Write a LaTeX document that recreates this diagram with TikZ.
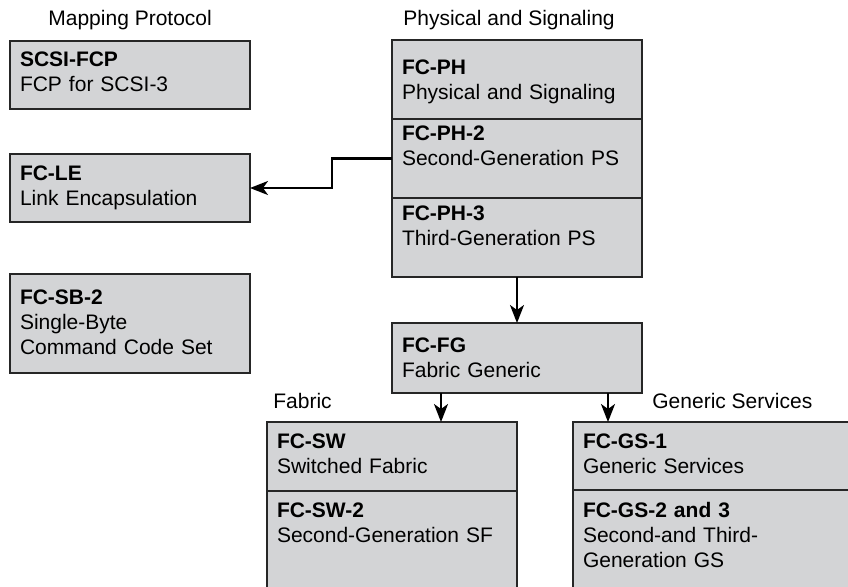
\documentclass[tikz,border=0pt]{standalone}
\usepackage{fontspec}
\setmainfont{Liberation Sans}
\usetikzlibrary{arrows.meta,positioning}
\definecolor{boxgray}{HTML}{D3D4D6}
\tikzset{sect/.style={draw=black!85,line width=0.6pt,fill=boxgray,anchor=north west,outer sep=0pt,inner xsep=5pt,inner ysep=0pt,align=left,text width=115pt,font=\fontsize{10.5}{12.5}\selectfont},lsect/.style={sect,text width=110pt},wsect/.style={sect,text width=140pt},head/.style={inner sep=0pt,anchor=base west,font=\fontsize{10.5}{12.5}\selectfont},edge/.style={-{Stealth[length=9pt,width=7pt,inset=2.5pt]},line width=1.1pt}}

\begin{document}
\begin{tikzpicture}[x=0.5pt,y=-0.5pt]
\useasboundingbox (0,0) rectangle (848,586);
\clip (0,0) rectangle (848,586);
% column headings
\node[head] (maphead) at (48,25) {Mapping Protocol};
\node[head] (phyhead) at (403,25) {Physical and Signaling};
\node[head] (fabhead) at (273,408) {Fabric};
\node[head] (gshead) at (652,408) {Generic Services};
% mapping protocols
\node[lsect,text height=12.5pt,text depth=21.5pt] (fcp) at (10,41) {\textbf{SCSI-FCP}\\FCP for SCSI-3};
\node[lsect,text height=13pt,text depth=21pt] (le) at (10,154) {\textbf{FC-LE}\\Link Encapsulation};
\node[lsect,text height=15pt,text depth=34.5pt] (sb) at (10,274) {\textbf{FC-SB-2}\\Single-Byte\\Command Code Set};
% physical and signaling stack
\node[sect,text height=17pt,text depth=22.5pt] (ph) at (392,40) {\textbf{FC-PH}\\Physical and Signaling};
\node[sect,text height=10.5pt,text depth=29pt,below=0pt of ph] (ph2) {\textbf{FC-PH-2}\\Second-Generation PS};
\node[sect,text height=11pt,text depth=28.5pt,below=0pt of ph2] (ph3) {\textbf{FC-PH-3}\\Third-Generation PS};
\node[sect,text height=14.5pt,text depth=20.5pt] (fg) at (392,323) {\textbf{FC-FG}\\Fabric Generic};
% fabric and generic services
\node[sect,text height=13pt,text depth=21.5pt] (sw) at (267,422) {\textbf{FC-SW}\\Switched Fabric};
\node[sect,text height=13pt,text depth=50pt,below=0pt of sw] (sw2) {\textbf{FC-SW-2}\\Second-Generation SF};
\node[wsect,text height=13pt,text depth=21pt] (gs) at (573,422) {\textbf{FC-GS-1}\\Generic Services};
\node[wsect,text height=13.5pt,text depth=50pt,below=0pt of gs] (gs2) {\textbf{FC-GS-2 and 3}\\Second-and Third-\\Generation GS};
% connectors
\coordinate (fgl) at ([xshift=-38pt]fg.south);
\coordinate (fgr) at ([xshift=45.5pt]fg.south);
\draw[edge] (ph2.west) -- ++(-60,0) |- (le.east);
\draw[edge] (ph3.south) -- (fg.north);
\draw[edge] (fgl) -- (fgl |- sw.north);
\draw[edge] (fgr) -- (fgr |- gs.north);
\end{tikzpicture}
\end{document}
